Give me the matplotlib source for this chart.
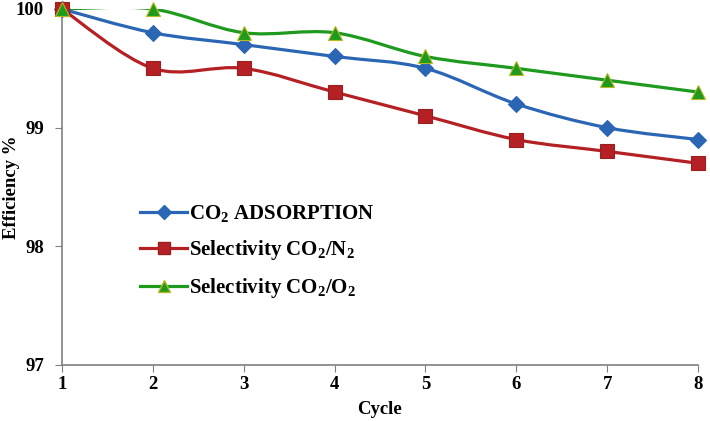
import numpy as np
import matplotlib
matplotlib.use("Agg")
import matplotlib.pyplot as plt
from matplotlib.path import Path
from matplotlib.patches import PathPatch
from matplotlib.lines import Line2D

plt.rcParams['font.family'] = ['Liberation Serif', 'DejaVu Serif']
plt.rcParams['font.weight'] = 'bold'
plt.rcParams['mathtext.fontset'] = 'custom'
plt.rcParams['mathtext.rm'] = 'Liberation Serif:bold'
plt.rcParams['mathtext.it'] = 'Liberation Serif:bold'
plt.rcParams['mathtext.bf'] = 'Liberation Serif:bold'
plt.rcParams['mathtext.default'] = 'rm'

cycles = [1, 2, 3, 4, 5, 6, 7, 8]
co2_adsorption = [100, 99.8, 99.7, 99.6, 99.5, 99.2, 99.0, 98.9]
sel_co2_n2 = [100, 99.5, 99.5, 99.3, 99.1, 98.9, 98.8, 98.7]
sel_co2_o2 = [100, 100, 99.8, 99.8, 99.6, 99.5, 99.4, 99.3]
y_ticks = [97, 98, 99, 100]

series = [
    (co2_adsorption, r'CO$_2$ ADSORPTION', '#2B66B5', 'D', '#2B66B5', 8),
    (sel_co2_n2, r'Selectivity CO$_2$/N$_2$', '#B52025', 's', '#9A2020', 9.5),
    (sel_co2_o2, r'Selectivity CO$_2$/O$_2$', '#1E9A1E', '^', '#B8B820', 10),
]

fig = plt.figure(figsize=(7.1, 4.21), dpi=100)
ax = fig.add_axes([62/710, (421-365)/421, (698-62)/710, (365-9)/421])


def smooth_path(x, y, t=1/6):
    x = np.asarray(x, float); y = np.asarray(y, float)
    n = len(x)
    verts = [(x[0], y[0])]
    codes = [Path.MOVETO]
    for i in range(n - 1):
        p0 = i - 1 if i > 0 else i
        p3 = i + 2 if i + 2 < n else i + 1
        c1 = (x[i] + (x[i+1] - x[p0]) * t, y[i] + (y[i+1] - y[p0]) * t)
        c2 = (x[i+1] - (x[p3] - x[i]) * t, y[i+1] - (y[p3] - y[i]) * t)
        verts += [c1, c2, (x[i+1], y[i+1])]
        codes += [Path.CURVE4] * 3
    return Path(verts, codes)


handles = []
for vals, label, col, mk, edge, ms in series:
    ax.add_patch(PathPatch(smooth_path(cycles, vals), fill=False, edgecolor=col,
                           lw=2.3, zorder=2, capstyle='round'))
    ax.plot(cycles, vals, linestyle='none', marker=mk, markersize=ms,
            markerfacecolor=col, markeredgecolor=edge, markeredgewidth=0.8,
            zorder=3, clip_on=False)
    handles.append(Line2D([], [], color=col, lw=2.3, marker=mk, markersize=ms*0.85,
                          markerfacecolor=col, markeredgecolor=edge, label=label))

ax.set_xlim(1, 8)
ax.set_ylim(97, 100)
ax.set_xticks(cycles)
ax.set_yticks(y_ticks)
ax.tick_params(axis='both', labelsize=13.5, direction='out', length=5, color='#808080')
ax.tick_params(axis='x', pad=3)
ax.tick_params(axis='y', pad=8)
for lab in ax.get_xticklabels() + ax.get_yticklabels():
    lab.set_fontweight('bold')
for s in ['top', 'right']:
    ax.spines[s].set_visible(False)
for s in ['left', 'bottom']:
    ax.spines[s].set_color('#808080')
    ax.spines[s].set_linewidth(1.2)

ax.set_xlabel('Cycle', fontsize=13.5, fontweight='bold', labelpad=6)
ax.set_ylabel('Efficiency %', fontsize=13.5, fontweight='bold')
ax.yaxis.set_label_coords(-0.066, 0.5)

leg = ax.legend(handles=handles, loc='upper left', bbox_to_anchor=(0.123, 0.455),
                frameon=False, fontsize=15, handlelength=2.25, handletextpad=0.08,
                labelspacing=0.68, borderaxespad=0, borderpad=0)
for t in leg.get_texts():
    t.set_fontweight('bold')

fig.savefig('out.png', dpi=100)
